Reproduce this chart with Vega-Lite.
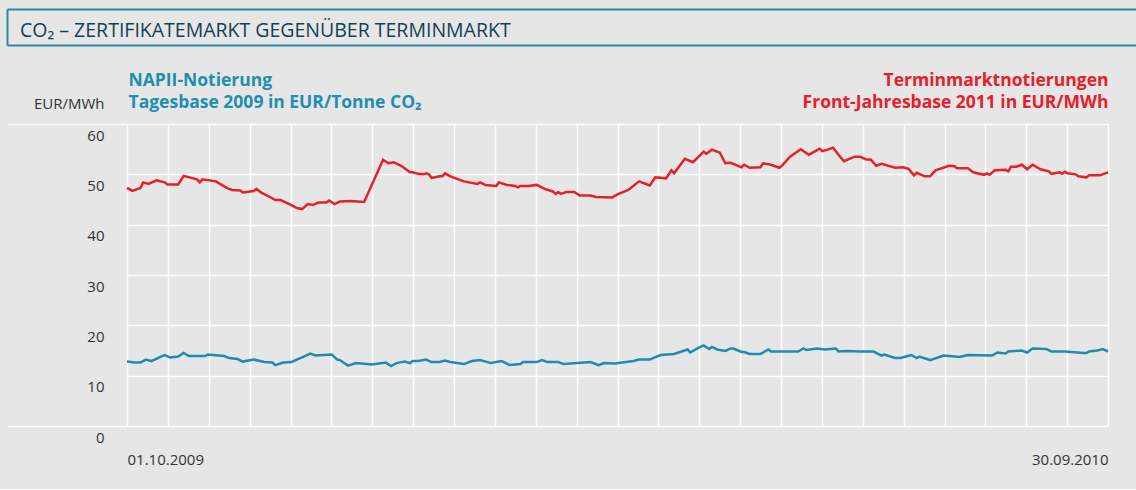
{
  "$schema": "https://vega.github.io/schema/vega-lite/v6.json",
  "background": "#e6e6e6",
  "padding": {"left": 6, "top": 8, "right": 0, "bottom": 22},
  "config": {"view": {"stroke": null}, "font": "Open Sans", "axis": {"labelFont": "Open Sans", "titleFont": "Open Sans"}},
  "spacing": 25,
  "datasets": {
    "napii": [
      {"date": "2009-10-01", "value": 12.8}, {"date": "2009-10-04", "value": 12.6}, {"date": "2009-10-06", "value": 12.6}, {"date": "2009-10-08", "value": 13.2}, {"date": "2009-10-10", "value": 12.9}, {"date": "2009-10-14", "value": 13.9}, {"date": "2009-10-15", "value": 14.1}, {"date": "2009-10-17", "value": 13.6}, {"date": "2009-10-20", "value": 13.8}, {"date": "2009-10-22", "value": 14.5}, {"date": "2009-10-24", "value": 13.9}, {"date": "2009-10-30", "value": 13.9}, {"date": "2009-10-31", "value": 14.2},
      {"date": "2009-11-06", "value": 13.9}, {"date": "2009-11-08", "value": 13.5}, {"date": "2009-11-11", "value": 13.3}, {"date": "2009-11-13", "value": 12.8}, {"date": "2009-11-17", "value": 13.2}, {"date": "2009-11-21", "value": 12.7}, {"date": "2009-11-24", "value": 12.6}, {"date": "2009-11-25", "value": 12.1}, {"date": "2009-11-28", "value": 12.6},
      {"date": "2009-12-01", "value": 12.7}, {"date": "2009-12-03", "value": 13.2}, {"date": "2009-12-06", "value": 13.9}, {"date": "2009-12-08", "value": 14.4}, {"date": "2009-12-10", "value": 14.0}, {"date": "2009-12-16", "value": 14.2}, {"date": "2009-12-18", "value": 13.2}, {"date": "2009-12-19", "value": 13.1}, {"date": "2009-12-22", "value": 12.0}, {"date": "2009-12-25", "value": 12.5}, {"date": "2009-12-31", "value": 12.2},
      {"date": "2010-01-05", "value": 12.6}, {"date": "2010-01-07", "value": 11.9}, {"date": "2010-01-09", "value": 12.5}, {"date": "2010-01-12", "value": 12.8}, {"date": "2010-01-14", "value": 12.5}, {"date": "2010-01-15", "value": 12.9}, {"date": "2010-01-17", "value": 12.9}, {"date": "2010-01-20", "value": 13.2}, {"date": "2010-01-22", "value": 12.7}, {"date": "2010-01-25", "value": 12.7}, {"date": "2010-01-27", "value": 13.0}, {"date": "2010-01-29", "value": 12.7},
      {"date": "2010-02-03", "value": 12.3}, {"date": "2010-02-06", "value": 12.9}, {"date": "2010-02-09", "value": 13.1}, {"date": "2010-02-13", "value": 12.5}, {"date": "2010-02-17", "value": 12.9}, {"date": "2010-02-20", "value": 12.1}, {"date": "2010-02-24", "value": 12.3}, {"date": "2010-02-25", "value": 12.7},
      {"date": "2010-03-02", "value": 12.7}, {"date": "2010-03-04", "value": 13.1}, {"date": "2010-03-06", "value": 12.7}, {"date": "2010-03-10", "value": 12.7}, {"date": "2010-03-12", "value": 12.3}, {"date": "2010-03-22", "value": 12.7}, {"date": "2010-03-25", "value": 12.1}, {"date": "2010-03-27", "value": 12.5}, {"date": "2010-03-31", "value": 12.4},
      {"date": "2010-04-07", "value": 12.9}, {"date": "2010-04-09", "value": 13.2}, {"date": "2010-04-13", "value": 13.2}, {"date": "2010-04-15", "value": 13.7}, {"date": "2010-04-17", "value": 14.1}, {"date": "2010-04-22", "value": 14.3}, {"date": "2010-04-27", "value": 15.2}, {"date": "2010-04-28", "value": 14.6},
      {"date": "2010-05-01", "value": 15.5}, {"date": "2010-05-03", "value": 16.0}, {"date": "2010-05-05", "value": 15.3}, {"date": "2010-05-06", "value": 15.7}, {"date": "2010-05-08", "value": 15.2}, {"date": "2010-05-11", "value": 14.9}, {"date": "2010-05-13", "value": 15.4}, {"date": "2010-05-14", "value": 15.4}, {"date": "2010-05-17", "value": 14.7}, {"date": "2010-05-18", "value": 14.7}, {"date": "2010-05-20", "value": 14.3}, {"date": "2010-05-24", "value": 14.3}, {"date": "2010-05-27", "value": 15.2}, {"date": "2010-05-28", "value": 14.8},
      {"date": "2010-06-07", "value": 14.8}, {"date": "2010-06-09", "value": 15.4}, {"date": "2010-06-10", "value": 15.1}, {"date": "2010-06-14", "value": 15.4}, {"date": "2010-06-17", "value": 15.2}, {"date": "2010-06-21", "value": 15.4}, {"date": "2010-06-22", "value": 14.8}, {"date": "2010-06-25", "value": 14.9}, {"date": "2010-06-30", "value": 14.8},
      {"date": "2010-07-05", "value": 14.8}, {"date": "2010-07-08", "value": 14.0}, {"date": "2010-07-09", "value": 14.2}, {"date": "2010-07-13", "value": 13.5}, {"date": "2010-07-15", "value": 13.5}, {"date": "2010-07-19", "value": 14.1}, {"date": "2010-07-21", "value": 13.5}, {"date": "2010-07-22", "value": 13.8}, {"date": "2010-07-26", "value": 13.1}, {"date": "2010-07-31", "value": 14.0},
      {"date": "2010-08-06", "value": 13.7}, {"date": "2010-08-09", "value": 14.1}, {"date": "2010-08-18", "value": 14.0}, {"date": "2010-08-20", "value": 14.6}, {"date": "2010-08-23", "value": 14.4}, {"date": "2010-08-24", "value": 14.8}, {"date": "2010-08-29", "value": 15.0}, {"date": "2010-08-31", "value": 14.6},
      {"date": "2010-09-02", "value": 15.4}, {"date": "2010-09-07", "value": 15.3}, {"date": "2010-09-09", "value": 14.8}, {"date": "2010-09-14", "value": 14.8}, {"date": "2010-09-21", "value": 14.5}, {"date": "2010-09-22", "value": 14.5}, {"date": "2010-09-23", "value": 14.8}, {"date": "2010-09-26", "value": 15.0}, {"date": "2010-09-28", "value": 15.3}, {"date": "2010-09-30", "value": 14.8}
    ],
    "termin": [
      {"date": "2009-10-01", "value": 47.3}, {"date": "2009-10-03", "value": 46.7}, {"date": "2009-10-06", "value": 47.3}, {"date": "2009-10-07", "value": 48.4}, {"date": "2009-10-09", "value": 48.1}, {"date": "2009-10-12", "value": 48.8}, {"date": "2009-10-15", "value": 48.4}, {"date": "2009-10-16", "value": 48.0}, {"date": "2009-10-20", "value": 48.0}, {"date": "2009-10-22", "value": 49.7}, {"date": "2009-10-27", "value": 49.0}, {"date": "2009-10-28", "value": 48.4}, {"date": "2009-10-29", "value": 49.0},
      {"date": "2009-11-03", "value": 48.6}, {"date": "2009-11-07", "value": 47.3}, {"date": "2009-11-09", "value": 46.9}, {"date": "2009-11-12", "value": 46.8}, {"date": "2009-11-13", "value": 46.4}, {"date": "2009-11-17", "value": 46.7}, {"date": "2009-11-18", "value": 47.1}, {"date": "2009-11-20", "value": 46.3}, {"date": "2009-11-23", "value": 45.5}, {"date": "2009-11-25", "value": 44.9}, {"date": "2009-11-27", "value": 44.9},
      {"date": "2009-12-01", "value": 43.9}, {"date": "2009-12-03", "value": 43.3}, {"date": "2009-12-05", "value": 43.1}, {"date": "2009-12-07", "value": 44.1}, {"date": "2009-12-09", "value": 43.9}, {"date": "2009-12-11", "value": 44.4}, {"date": "2009-12-14", "value": 44.4}, {"date": "2009-12-15", "value": 44.8}, {"date": "2009-12-17", "value": 44.1}, {"date": "2009-12-19", "value": 44.6}, {"date": "2009-12-23", "value": 44.7}, {"date": "2009-12-28", "value": 44.5},
      {"date": "2010-01-04", "value": 52.9}, {"date": "2010-01-06", "value": 52.2}, {"date": "2010-01-08", "value": 52.4}, {"date": "2010-01-11", "value": 51.6}, {"date": "2010-01-14", "value": 50.4}, {"date": "2010-01-15", "value": 50.4}, {"date": "2010-01-17", "value": 50.1}, {"date": "2010-01-19", "value": 50.0}, {"date": "2010-01-20", "value": 50.2}, {"date": "2010-01-21", "value": 50.0}, {"date": "2010-01-22", "value": 49.3}, {"date": "2010-01-25", "value": 49.6}, {"date": "2010-01-26", "value": 49.6}, {"date": "2010-01-27", "value": 50.2}, {"date": "2010-01-29", "value": 49.6},
      {"date": "2010-02-03", "value": 48.6}, {"date": "2010-02-08", "value": 48.1}, {"date": "2010-02-09", "value": 48.4}, {"date": "2010-02-11", "value": 47.9}, {"date": "2010-02-15", "value": 47.7}, {"date": "2010-02-16", "value": 48.4}, {"date": "2010-02-19", "value": 47.9}, {"date": "2010-02-22", "value": 47.7}, {"date": "2010-02-23", "value": 47.4}, {"date": "2010-02-24", "value": 47.7}, {"date": "2010-02-27", "value": 47.7},
      {"date": "2010-03-02", "value": 47.9}, {"date": "2010-03-05", "value": 47.1}, {"date": "2010-03-08", "value": 46.6}, {"date": "2010-03-09", "value": 46.1}, {"date": "2010-03-10", "value": 46.5}, {"date": "2010-03-11", "value": 46.1}, {"date": "2010-03-13", "value": 46.5}, {"date": "2010-03-16", "value": 46.5}, {"date": "2010-03-18", "value": 45.8}, {"date": "2010-03-22", "value": 45.8}, {"date": "2010-03-24", "value": 45.5}, {"date": "2010-03-30", "value": 45.4},
      {"date": "2010-04-01", "value": 46.0}, {"date": "2010-04-05", "value": 46.9}, {"date": "2010-04-09", "value": 48.6}, {"date": "2010-04-13", "value": 47.8}, {"date": "2010-04-15", "value": 49.4}, {"date": "2010-04-19", "value": 49.2}, {"date": "2010-04-21", "value": 50.8}, {"date": "2010-04-22", "value": 50.2}, {"date": "2010-04-26", "value": 53.1}, {"date": "2010-04-29", "value": 52.4},
      {"date": "2010-05-03", "value": 54.5}, {"date": "2010-05-04", "value": 54.1}, {"date": "2010-05-06", "value": 54.9}, {"date": "2010-05-09", "value": 54.3}, {"date": "2010-05-11", "value": 52.2}, {"date": "2010-05-13", "value": 52.3}, {"date": "2010-05-17", "value": 51.4}, {"date": "2010-05-18", "value": 51.9}, {"date": "2010-05-20", "value": 51.3}, {"date": "2010-05-24", "value": 51.4}, {"date": "2010-05-25", "value": 52.2}, {"date": "2010-05-28", "value": 51.9}, {"date": "2010-05-31", "value": 51.3},
      {"date": "2010-06-01", "value": 51.7}, {"date": "2010-06-04", "value": 53.5}, {"date": "2010-06-08", "value": 55.0}, {"date": "2010-06-11", "value": 53.9}, {"date": "2010-06-15", "value": 55.1}, {"date": "2010-06-16", "value": 54.6}, {"date": "2010-06-18", "value": 54.9}, {"date": "2010-06-20", "value": 55.3}, {"date": "2010-06-22", "value": 53.9}, {"date": "2010-06-24", "value": 52.6}, {"date": "2010-06-28", "value": 53.5}, {"date": "2010-06-30", "value": 53.5},
      {"date": "2010-07-02", "value": 53.0}, {"date": "2010-07-04", "value": 52.9}, {"date": "2010-07-06", "value": 51.7}, {"date": "2010-07-08", "value": 52.1}, {"date": "2010-07-13", "value": 51.3}, {"date": "2010-07-16", "value": 51.4}, {"date": "2010-07-18", "value": 51.1}, {"date": "2010-07-20", "value": 49.8}, {"date": "2010-07-21", "value": 50.3}, {"date": "2010-07-24", "value": 49.6}, {"date": "2010-07-26", "value": 49.6}, {"date": "2010-07-28", "value": 50.8},
      {"date": "2010-08-02", "value": 51.7}, {"date": "2010-08-04", "value": 51.6}, {"date": "2010-08-05", "value": 51.2}, {"date": "2010-08-09", "value": 51.2}, {"date": "2010-08-11", "value": 50.4}, {"date": "2010-08-15", "value": 49.9}, {"date": "2010-08-16", "value": 50.2}, {"date": "2010-08-17", "value": 49.9}, {"date": "2010-08-19", "value": 50.8}, {"date": "2010-08-23", "value": 50.9}, {"date": "2010-08-24", "value": 50.6}, {"date": "2010-08-25", "value": 51.5}, {"date": "2010-08-27", "value": 51.5}, {"date": "2010-08-29", "value": 51.9}, {"date": "2010-08-31", "value": 51.0},
      {"date": "2010-09-02", "value": 51.9}, {"date": "2010-09-05", "value": 51.0}, {"date": "2010-09-08", "value": 50.6}, {"date": "2010-09-09", "value": 50.1}, {"date": "2010-09-12", "value": 50.4}, {"date": "2010-09-13", "value": 50.1}, {"date": "2010-09-14", "value": 50.5}, {"date": "2010-09-15", "value": 50.2}, {"date": "2010-09-18", "value": 50.0}, {"date": "2010-09-19", "value": 49.6}, {"date": "2010-09-22", "value": 49.4}, {"date": "2010-09-23", "value": 49.8}, {"date": "2010-09-27", "value": 49.8}, {"date": "2010-09-30", "value": 50.4}
    ]
  },
  "vconcat": [
    {
      "width": 981,
      "height": 36,
      "data": {"values": [{"t": "CO₂ – ZERTIFIKATEMARKT GEGENÜBER TERMINMARKT"}]},
      "mark": {"type": "text", "align": "left", "baseline": "alphabetic", "fontSize": 19.5, "color": "#0f4159", "font": "Open Sans", "dx": -107, "dy": 10},
      "encoding": {
        "text": {"field": "t"},
        "x": {"datum": 0, "type": "quantitative", "scale": {"domain": [0, 1]}, "axis": null},
        "y": {"datum": 0.5, "type": "quantitative", "scale": {"domain": [0, 1], "nice": false, "zero": false},
          "axis": {"orient": "left", "offset": 120, "values": [0, 1], "domain": true, "domainColor": "#2a8aa8", "domainWidth": 2, "ticks": true, "tickColor": "#2a8aa8", "tickWidth": 2, "tickSize": -1130, "labels": false, "grid": false, "title": null}}
      }
    },
    {
      "width": 981,
      "height": 302,
      "layer": [
        {
          "data": {"name": "napii"},
          "mark": {"type": "line", "color": "#1f8bae", "strokeWidth": 2.5},
          "encoding": {
            "x": {"field": "date", "type": "temporal",
              "scale": {"type": "utc", "domain": [{"year": 2009, "month": 10, "date": 1, "utc": true}, {"year": 2010, "month": 9, "date": 30, "utc": true}]},
              "axis": {"orient": "bottom", "values": [{"year": 2009, "month": 10, "date": 1, "utc": true}, {"year": 2010, "month": 9, "date": 30, "utc": true}], "format": "%d.%m.%Y", "labelFlush": true, "ticks": false, "domain": false, "grid": false, "labelPadding": 26, "labelFontSize": 15, "labelColor": "#333333", "title": null}},
            "y": {"field": "value", "type": "quantitative", "scale": {"domain": [0, 60], "nice": false},
              "axis": {"orient": "left", "values": [0, 10, 20, 30, 40, 50, 60], "grid": true, "gridColor": "#ffffff", "gridWidth": 1.5, "ticks": false, "domain": false, "labelPadding": 23, "labelBaseline": "alphabetic", "labelOffset": 16, "labelFontSize": 15, "labelColor": "#333333",
                "title": "EUR/MWh", "titleAngle": 0, "titleAlign": "right", "titleBaseline": "alphabetic", "titleX": -23, "titleY": -16, "titleFontSize": 15, "titleFontWeight": "normal", "titleColor": "#333333"}}
          }
        },
        {
          "data": {"name": "termin"},
          "mark": {"type": "line", "color": "#e5202a", "strokeWidth": 2.5},
          "encoding": {
            "x": {"field": "date", "type": "temporal",
              "axis": {"orient": "top", "values": [
                {"year": 2009, "month": 10, "date": 1, "utc": true},
                {"year": 2009, "month": 10, "date": 16, "hours": 4, "utc": true},
                {"year": 2009, "month": 10, "date": 31, "hours": 8, "utc": true},
                {"year": 2009, "month": 11, "date": 15, "hours": 12, "utc": true},
                {"year": 2009, "month": 11, "date": 30, "hours": 16, "utc": true},
                {"year": 2009, "month": 12, "date": 15, "hours": 20, "utc": true},
                {"year": 2009, "month": 12, "date": 31, "utc": true},
                {"year": 2010, "month": 1, "date": 15, "hours": 4, "utc": true},
                {"year": 2010, "month": 1, "date": 30, "hours": 8, "utc": true},
                {"year": 2010, "month": 2, "date": 14, "hours": 12, "utc": true},
                {"year": 2010, "month": 3, "date": 1, "hours": 16, "utc": true},
                {"year": 2010, "month": 3, "date": 16, "hours": 20, "utc": true},
                {"year": 2010, "month": 4, "date": 1, "utc": true},
                {"year": 2010, "month": 4, "date": 16, "hours": 4, "utc": true},
                {"year": 2010, "month": 5, "date": 1, "hours": 8, "utc": true},
                {"year": 2010, "month": 5, "date": 16, "hours": 12, "utc": true},
                {"year": 2010, "month": 5, "date": 31, "hours": 16, "utc": true},
                {"year": 2010, "month": 6, "date": 15, "hours": 20, "utc": true},
                {"year": 2010, "month": 7, "date": 1, "utc": true},
                {"year": 2010, "month": 7, "date": 16, "hours": 4, "utc": true},
                {"year": 2010, "month": 7, "date": 31, "hours": 8, "utc": true},
                {"year": 2010, "month": 8, "date": 15, "hours": 12, "utc": true},
                {"year": 2010, "month": 8, "date": 30, "hours": 16, "utc": true},
                {"year": 2010, "month": 9, "date": 14, "hours": 20, "utc": true},
                {"year": 2010, "month": 9, "date": 30, "utc": true}
              ], "grid": true, "gridColor": "#ffffff", "gridWidth": 1.5, "labels": false, "ticks": false, "domain": false,
                "title": ["Terminmarktnotierungen", "Front-Jahresbase 2011 in EUR/MWh"], "titleX": 981, "titleY": -39, "titleAlign": "right", "titleAnchor": "end", "titleBaseline": "alphabetic", "titleColor": "#e5202a", "titleFontSize": 17.5, "titleFontWeight": "bold", "titleLineHeight": 22}},
            "y": {"field": "value", "type": "quantitative",
              "axis": {"orient": "left", "values": [0, 60], "grid": false, "labels": false, "domain": false, "ticks": true, "tickColor": "#ffffff", "tickSize": 120, "tickWidth": 1.5,
                "title": ["NAPII-Notierung", "Tagesbase 2009 in EUR/Tonne CO₂"], "titleX": 1, "titleY": -39, "titleAngle": 0, "titleAlign": "left", "titleBaseline": "alphabetic", "titleColor": "#1f8eb0", "titleFontSize": 17.5, "titleFontWeight": "bold", "titleLineHeight": 22}}
          }
        }
      ],
      "resolve": {"axis": {"x": "independent", "y": "independent"}}
    }
  ]
}
